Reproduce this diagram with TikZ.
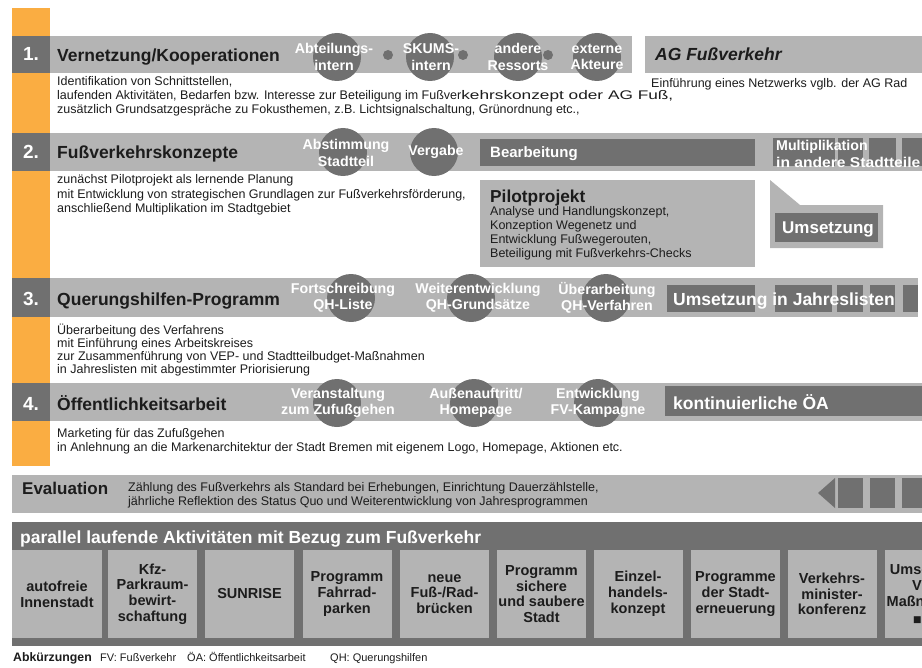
\documentclass[tikz,border=0pt]{standalone}
\usepackage{fontspec}
\usepackage{graphicx}
\setmainfont{Liberation Sans}
\newfontfamily\symbolfont{DejaVu Sans}
\usetikzlibrary{positioning}
\definecolor{barGray}{RGB}{180,180,180}
\definecolor{darkGray}{RGB}{112,112,112}
\definecolor{orangeBar}{RGB}{250,173,66}
\definecolor{textBlack}{RGB}{28,28,28}
\newcommand{\fsize}[2]{\fontsize{#1bp}{#2bp}\selectfont}
\newcommand{\wide}[2]{\scalebox{#1}[1]{#2}}

\begin{document}
\begin{tikzpicture}[x=1bp,y=-1bp]

          \tikzstyle{lightBox} = [fill=barGray];
          \tikzstyle{darkBox} = [fill=darkGray];
          \tikzstyle{bigDot} = [circle, fill=darkGray, inner sep=0, minimum size=48bp];
          \tikzstyle{smallDot} = [circle, fill=darkGray, inner sep=0, minimum size=10bp];
          \tikzstyle{numNode} = [anchor=base, inner sep=0, white, font=\bfseries\fsize{19}{22}];
          \tikzstyle{titleNode} = [anchor=base west, inner sep=0, textBlack, font=\bfseries\fsize{17.5}{20}];
          \tikzstyle{boxNode} = [anchor=base west, inner sep=0, white, font=\bfseries\fsize{17.5}{20}];
          \tikzstyle{dotNode} = [inner sep=0, align=center, white, font=\bfseries\fsize{14.2}{16.5}];
          \tikzstyle{bodyNode} = [anchor=base west, inner sep=0, align=left, textBlack, font=\fsize{12.5}{14}];
          \tikzstyle{tileNode} = [fill=barGray, inner sep=0, minimum width=89bp, minimum height=88bp, align=center, text=textBlack, font=\bfseries\fsize{14.5}{15.8}];

          \useasboundingbox (0,0) rectangle (922,668);
          \clip (0,0) rectangle (922,668);

          % orange time line
          \fill[orangeBar] (12,8) rectangle (50,466);

          % 1. Vernetzung/Kooperationen
          \fill[lightBox] (50,36) rectangle (632,73);
          \fill[darkBox] (12,36) rectangle (50,73);
          \node[numNode] (num1) at (31,61) {1.};
          \node[titleNode] (title1) at (57,62) {Vernetzung/Kooperationen};
          \node[bigDot] (abt) at (337,57) {};
          \node[bigDot] (skums) at (430,57) {};
          \node[bigDot] (ressorts) at (518,57) {};
          \node[bigDot] (akteure) at (597,57) {};
          \node[smallDot] (dotA) at (388,55) {};
          \node[smallDot] (dotB) at (463,55) {};
          \node[smallDot] (dotC) at (548,55) {};
          \node[dotNode] (abtText) at (334,57) {Abteilungs-\\intern};
          \node[dotNode] (skumsText) at (431,57) {SKUMS-\\intern};
          \node[dotNode] (ressortsText) at (518,57) {andere\\Ressorts};
          \node[dotNode] (akteureText) at (597,57) {externe\\Akteure};
          % multi-line body texts sit on the baseline of their last line
          \node[bodyNode] (desc1) at (57,114) {Identifikation von Schnittstellen,\\laufenden Aktivitäten, Bedarfen bzw. Interesse zur Beteiligung im Fußver\wide{1.38}{kehrskonzept oder AG Fuß,}\\zusätzlich Grundsatzgespräche zu Fokusthemen, z.B. Lichtsignalschaltung, Grünordnung etc.,};

          \fill[lightBox] (645,36) rectangle (922,73);
          \node[titleNode, font=\bfseries\itshape\fsize{17.5}{20}] (agTitle) at (655,61) {AG Fußverkehr};
          \node[bodyNode] (agDesc) at (651,88) {Einführung eines Netzwerks vglb. der AG Rad};

          % 2. Fussverkehrskonzepte
          \fill[lightBox] (50,133) rectangle (922,171);
          \fill[darkBox] (12,133) rectangle (50,171);
          \node[numNode] (num2) at (31,159) {2.};
          \node[titleNode] (title2) at (57,159) {Fußverkehrskonzepte};
          \node[bigDot] (abst) at (343,152) {};
          \node[bigDot] (vergabe) at (434,152) {};
          \node[dotNode] (abstText) at (346,153) {Abstimmung\\Stadtteil};
          \node[dotNode] (vergabeText) at (436,152) {Vergabe};
          \fill[darkBox] (480,139) rectangle (755,166);
          \node[boxNode, font=\bfseries\fsize{15}{17}] (bearb) at (490,158) {Bearbeitung};
          \fill[darkBox] (773,138) rectangle (835,166);
          \fill[darkBox] (838,138) rectangle (863,166);
          \fill[darkBox] (869,138) rectangle (896,166);
          \fill[darkBox] (902,138) rectangle (922,166);
          \node[dotNode, anchor=west, align=left] (multi) at (776,154) {Multiplikation\\\wide{1.1}{in andere Stadtteile}};
          \node[bodyNode, font=\fsize{12.5}{14.2}] (desc2) at (57,212.4) {zunächst Pilotprojekt als lernende Planung\\mit Entwicklung von strategischen Grundlagen zur Fußverkehrsförderung,\\anschließend Multiplikation im Stadtgebiet};

          \fill[lightBox] (480,180) rectangle (755,267);
          \node[titleNode, font=\bfseries\fsize{17.3}{20}] (pilot) at (490,202) {Pilotprojekt};
          \node[bodyNode, font=\fsize{12.5}{14}] (pilotDesc) at (490,257) {Analyse und Handlungskonzept,\\Konzeption Wegenetz und\\Entwicklung Fußwegerouten,\\Beteiligung mit Fußverkehrs-Checks};

          \fill[lightBox] (770,180) -- (800,205) -- (883,205) -- (883,248) -- (770,248) -- cycle;
          \fill[darkBox] (775,213) rectangle (878,242);
          \node[boxNode, font=\bfseries\fsize{17}{20}] (umsetz) at (782,233) {Umsetzung};

          % 3. Querungshilfen
          \fill[lightBox] (50,278) rectangle (918,317);
          \fill[darkBox] (12,278) rectangle (50,317);
          \node[numNode] (num3) at (31,305) {3.};
          \node[titleNode] (title3) at (57,305) {Querungshilfen-Programm};
          \node[bigDot] (fort) at (351,298) {};
          \node[bigDot] (weiter) at (471,298) {};
          \node[bigDot] (ueber) at (606,298) {};
          \node[dotNode] (fortText) at (343,298) {Fortschreibung\\QH-Liste};
          \node[dotNode] (weiterText) at (478,298) {Weiterentwicklung\\QH-Grundsätze};
          \node[dotNode] (ueberText) at (607,298) {Überarbeitung\\QH-Verfahren};
          \fill[darkBox] (667,285) rectangle (755,312);
          \fill[darkBox] (775,285) rectangle (832,312);
          \fill[darkBox] (837,285) rectangle (863,312);
          \fill[darkBox] (870,285) rectangle (895,312);
          \fill[darkBox] (903,285) rectangle (918,312);
          \node[boxNode] (jahr) at (673,305) {Umsetzung in Jahreslisten};
          \node[bodyNode, font=\fsize{12.5}{13}] (desc3) at (57,373) {Überarbeitung des Verfahrens\\mit Einführung eines Arbeitskreises\\zur Zusammenführung von VEP- und Stadtteilbudget-Maßnahmen\\in Jahreslisten mit abgestimmter Priorisierung};

          % 4. Oeffentlichkeitsarbeit
          \fill[lightBox] (50,383) rectangle (922,421);
          \fill[darkBox] (12,383) rectangle (50,421);
          \fill[darkBox] (665,386) rectangle (922,416);
          \node[numNode] (num4) at (31,410) {4.};
          \node[titleNode] (title4) at (57,410) {Öffentlichkeitsarbeit};
          \node[bigDot] (veran) at (337,403) {};
          \node[bigDot] (aussen) at (474,403) {};
          \node[bigDot] (kampagne) at (598,403) {};
          \node[dotNode] (veranText) at (338,403) {Veranstaltung\\zum Zufußgehen};
          \node[dotNode] (aussenText) at (476,403) {Außenauftritt/\\Homepage};
          \node[dotNode] (kampagneText) at (598,403) {Entwicklung\\FV-Kampagne};
          \node[boxNode] (kontOA) at (673,409) {kontinuierliche ÖA};
          \node[bodyNode, font=\fsize{12.5}{13.5}] (desc4) at (57,451) {Marketing für das Zufußgehen\\in Anlehnung an die Markenarchitektur der Stadt Bremen mit eigenem Logo, Homepage, Aktionen etc.};

          % Evaluation
          \fill[lightBox] (12,475) rectangle (922,513);
          \node[titleNode, font=\bfseries\fsize{17}{20}] (eval) at (22,494) {Evaluation};
          \node[bodyNode] (evalDesc) at (128,505) {Zählung des Fußverkehrs als Standard bei Erhebungen, Einrichtung Dauerzählstelle,\\jährliche Reflektion des Status Quo und Weiterentwicklung von Jahresprogrammen};
          \fill[darkBox] (818,493) -- (835,478) -- (835,508) -- cycle;
          \fill[darkBox] (838,478) rectangle (863,508);
          \fill[darkBox] (870,478) rectangle (895,508);
          \fill[darkBox] (902,478) rectangle (922,508);

          % parallel laufende Aktivitaeten
          \fill[darkBox] (12,522) rectangle (922,646);
          \node[boxNode] (parallel) at (20,543) {parallel laufende Aktivitäten mit Bezug zum Fußverkehr};
          \node[tileNode] (tile1) at (57,594) {autofreie\\Innenstadt};
          \node[tileNode] (tile2) at (152.5,594) {Kfz-\\Parkraum-\\bewirt-\\schaftung};
          \node[tileNode] (tile3) at (249.5,594) {SUNRISE};
          \node[tileNode] (tile4) at (347,594) {Programm\\Fahrrad-\\parken};
          \node[tileNode] (tile5) at (444.5,594) {neue\\Fuß-/Rad-\\brücken};
          \node[tileNode] (tile6) at (541.5,594) {Programm\\sichere\\und saubere\\Stadt};
          \node[tileNode] (tile7) at (638,594) {Einzel-\\handels-\\konzept};
          \node[tileNode] (tile8) at (735.5,594) {Programme\\der Stadt-\\erneuerung};
          \node[tileNode] (tile9) at (832,594) {Verkehrs-\\minister-\\konferenz};
          \node[tileNode] (tile10) at (929,594) {Umsetzung\\VEP-\\Maßnahmen\\{\symbolfont\fsize{9}{15.8}■ ■ ■}};

          % Abkuerzungen
          \node[titleNode, font=\bfseries\fsize{12.3}{14}] (abk) at (13,661) {Abkürzungen};
          \node[bodyNode, font=\fsize{11}{13}] (abkFV) at (100,661) {FV: Fußverkehr};
          \node[bodyNode, font=\fsize{11}{13}] (abkOA) at (187,661) {ÖA: Öffentlichkeitsarbeit};
          \node[bodyNode, font=\fsize{11}{13}] (abkQH) at (330,661) {QH: Querungshilfen};
        \end{tikzpicture}
\end{document}
